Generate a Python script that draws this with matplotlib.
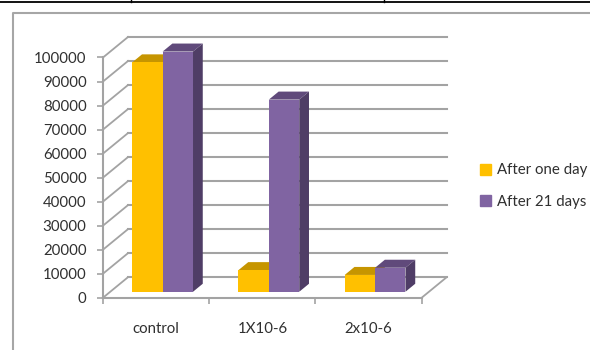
import matplotlib
matplotlib.use("Agg")
import matplotlib.pyplot as plt
from matplotlib.lines import Line2D
from matplotlib.patches import Patch

categories = ["control", "1X10-6", "2x10-6"]
after_one_day = [95500, 9000, 7000]
after_21_days = [100000, 80000, 10000]
y_ticks = [0, 10000, 20000, 30000, 40000, 50000, 60000, 70000, 80000, 90000, 100000]

W, H = 590, 350
GRID = "#a3a3a3"
TEXT = "#303030"
# how far one full unit of depth shifts a point, in data units
DEPTH_X = 0.2354
DEPTH_Y = 8540
BAR_W = 0.286
BAR_GAP = 0.207
DEPTH_FRONT = 0.29
DEPTH_BACK = 0.68

plt.rcParams["font.family"] = ["Lato", "DejaVu Sans"]
plt.rcParams["font.size"] = 10.8


def project(x, d, v):
    return x + d * DEPTH_X, v + d * DEPTH_Y


def poly(ax, pts, color, z):
    xs = [p[0] for p in pts]
    ys = [p[1] for p in pts]
    ax.fill(xs, ys, color=color, lw=0, clip_on=False, zorder=z)


def bar3d(ax, left, value, front, top, side, z):
    right = left + BAR_W
    poly(ax, [project(left, DEPTH_FRONT, 0), project(right, DEPTH_FRONT, 0),
              project(right, DEPTH_FRONT, value), project(left, DEPTH_FRONT, value)], front, z + 0.2)
    poly(ax, [project(left, DEPTH_FRONT, value), project(right, DEPTH_FRONT, value),
              project(right, DEPTH_BACK, value), project(left, DEPTH_BACK, value)], top, z + 0.1)
    poly(ax, [project(right, DEPTH_FRONT, 0), project(right, DEPTH_BACK, 0),
              project(right, DEPTH_BACK, value), project(right, DEPTH_FRONT, value)], side, z + 0.1)


def page_line(fig, xs, ys, color, lw):
    fig.add_artist(Line2D([x / W for x in xs], [1 - y / H for y in ys], color=color, lw=lw))


fig = plt.figure(figsize=(W / 100, H / 100), dpi=100)

# page rule and the chart border
page_line(fig, [0, W], [1.5, 1.5], "black", 1.3)
page_line(fig, [131, 131], [0, 2], "black", 1.0)
page_line(fig, [384, 384], [0, 2], "black", 1.0)
page_line(fig, [12.8, 12.8, W], [H, 13, 13], "#a6a6a6", 1.5)

ax = fig.add_axes([103 / W, 1 - 297.7 / H, 318.7 / W, 240.2 / H])
ax.set_xlim(0, 3)
ax.set_ylim(0, 100000)
ax.patch.set_visible(False)
for s in ("top", "right"):
    ax.spines[s].set_visible(False)
for s in ("left", "bottom"):
    ax.spines[s].set_color(GRID)
    ax.spines[s].set_linewidth(1.5)

ax.set_yticks(y_ticks)
ax.tick_params(axis="y", color=GRID, width=1.2, length=4.3, pad=7.5, labelcolor=TEXT)
ax.set_xticks(range(4))
ax.set_xticklabels([])
ax.tick_params(axis="x", which="major", color=GRID, width=1.2, length=4.3)
ax.set_xticks([0.5, 1.5, 2.5], minor=True)
ax.set_xticklabels(categories, minor=True)
ax.tick_params(axis="x", which="minor", length=0, pad=17.5, labelcolor=TEXT)

# back wall gridlines and the diagonals on the side wall
for v in y_ticks:
    x0, y0 = project(0, 1, v)
    x1, y1 = project(3, 1, v)
    ax.plot([x0, x1], [y0, y1], color=GRID, lw=1.5, clip_on=False, zorder=1)
    ax.plot([0, x0], [v, y0], color=GRID, lw=1.3, clip_on=False, zorder=1)
rx, ry = project(3, 1, 0)
ax.plot([3, rx], [0, ry], color=GRID, lw=1.3, clip_on=False, zorder=1)

for i in range(len(categories)):
    bar3d(ax, i + BAR_GAP, after_one_day[i], "#FFC000", "#C69500", "#A67D00", 2 + i)
    bar3d(ax, i + BAR_GAP + BAR_W, after_21_days[i], "#8064A2", "#604A7B", "#4F3D66", 2.5 + i)

handles = [Patch(color="#FFC000"), Patch(color="#8064A2")]
fig.legend(handles, ["After one day", "After 21 days"], loc="upper left",
           bbox_to_anchor=(480 / W, 1 - 163.5 / H), frameon=False, borderpad=0, borderaxespad=0,
           handlelength=0.75, handleheight=0.75, handletextpad=0.38, labelspacing=1.15,
           labelcolor=TEXT)

fig.savefig("out.png", dpi=100)
